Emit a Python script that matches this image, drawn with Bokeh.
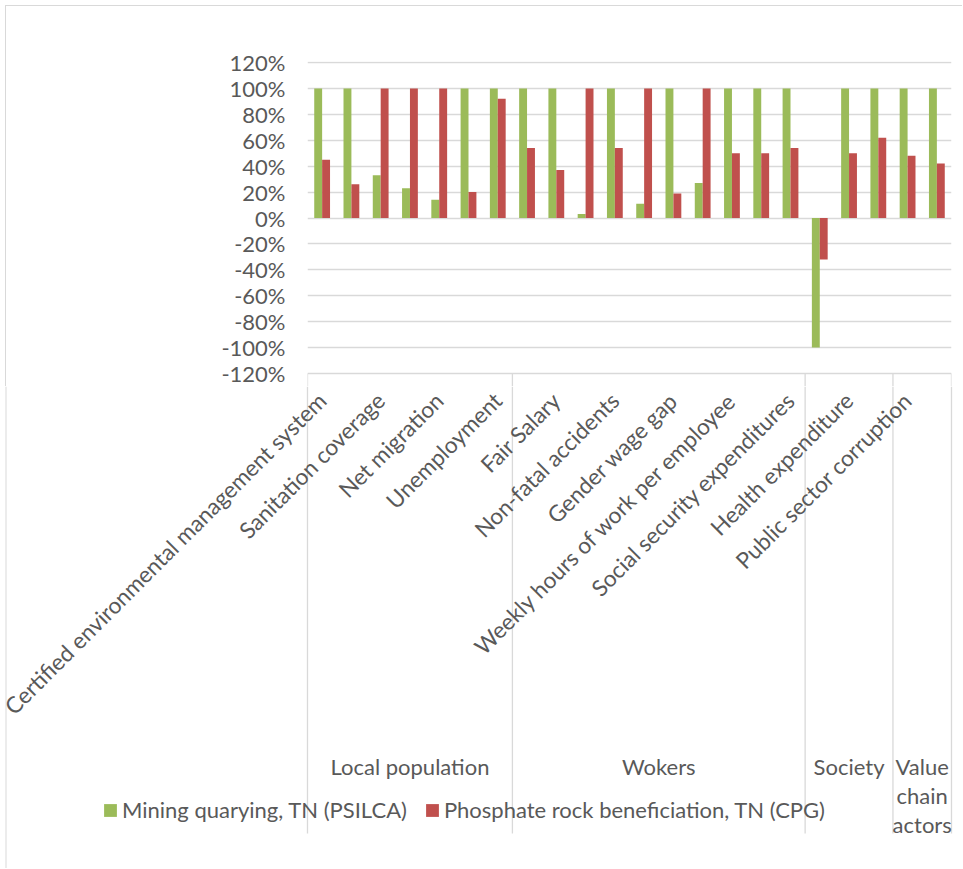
import numpy as np
from bokeh.plotting import figure
from bokeh.layouts import column
from bokeh.models import (ColumnDataSource, Range1d, FixedTicker, NumeralTickFormatter,
                          Legend, LegendItem)
from bokeh.transform import dodge
from bokeh.core.properties import value
from bokeh.embed import file_html
from bokeh.resources import INLINE

# ---------------- data ----------------
# Excel shows only every other category label; hidden ones are left blank
category_labels = [
    "Certified environmental management system", "",
    "Sanitation coverage", "",
    "Net migration", "",
    "Unemployment", "",
    "Fair Salary", "",
    "Non-fatal accidents", "",
    "Gender wage gap", "",
    "Weekly hours of work per employee", "",
    "Social security expenditures", "",
    "Health expenditure", "",
    "Public sector corruption", "",
]
groups = ["Local population", "Wokers", "Society", "Value chain actors"]
group_sizes = [7, 10, 3, 2]
series_names = ["Mining quarying, TN (PSILCA)", "Phosphate rock beneficiation, TN (CPG)"]
mining = [1.00, 1.00, 0.33, 0.23, 0.14, 1.00, 1.00, 1.00, 1.00, 0.03, 1.00,
          0.11, 1.00, 0.27, 1.00, 1.00, 1.00, -1.00, 1.00, 1.00, 1.00, 1.00]
phosphate = [0.45, 0.26, 1.00, 1.00, 1.00, 0.20, 0.92, 0.54, 0.37, 1.00, 0.54,
             1.00, 0.19, 1.00, 0.50, 0.50, 0.54, -0.32, 0.50, 0.62, 0.48, 0.42]
y_ticks = [-1.2, -1.0, -0.8, -0.6, -0.4, -0.2, 0.0, 0.2, 0.4, 0.6, 0.8, 1.0, 1.2]

GREEN = "#9BBB59"
RED = "#C0504D"
GRID = "#d9d9d9"
TEXT = "#595959"
FONT = "Lato"
FS = "22px"
FS_CAT = "22.6px"

# ---------------- layout (page pixels) ----------------
OFF = 6                       # chart border: 5px margin + 1px line
PAGE_W, PAGE_H = 963, 869
PLOT_L, PLOT_R = 307, 951     # category area
Y120, YM120 = 62, 373         # pixel rows of +120% and -120%
SPLIT = 387                   # row where the upper figure ends
BOX_BOTTOM = 834
BORDER_X = 5.5
PX_PER_UNIT = (YM120 - Y120) / 2.4
n = len(category_labels)
CAT_W = (PLOT_R - PLOT_L) / n
bounds = [0] + [int(b) for b in np.cumsum(group_sizes)]

# ---------------- upper figure: bars ----------------
y_lo = -1.2 - (SPLIT - YM120) / PX_PER_UNIT
p = figure(width=PAGE_W - OFF, height=SPLIT - OFF,
           x_range=Range1d(0, n),
           y_range=Range1d(y_lo, 1.2 + 1 / PX_PER_UNIT),
           output_backend="svg", toolbar_location=None, x_axis_type=None,
           min_border_left=PLOT_L - OFF, min_border_right=PAGE_W - PLOT_R,
           min_border_top=Y120 - 1 - OFF, min_border_bottom=0)
p.frame_align = False
p.outline_line_color = None
p.border_fill_color = "white"
p.styles = {"margin-left": "5px", "margin-top": "5px",
            "border-left": "1px solid #d9d9d9", "border-top": "1px solid #d9d9d9"}

p.yaxis.ticker = FixedTicker(ticks=y_ticks)
p.yaxis.formatter = NumeralTickFormatter(format="0%")
p.yaxis.axis_line_color = None
p.yaxis.major_tick_line_color = None
p.yaxis.minor_tick_line_color = None
p.yaxis.major_tick_out = 0
p.yaxis.major_tick_in = 0
p.yaxis.major_label_standoff = 22
p.yaxis.major_label_text_font = FONT
p.yaxis.major_label_text_font_size = FS
p.yaxis.major_label_text_color = TEXT

p.xgrid.visible = False
p.ygrid.ticker = FixedTicker(ticks=y_ticks)
p.ygrid.grid_line_color = GRID
p.ygrid.grid_line_width = 1.3

src = ColumnDataSource(dict(x=[i + 0.5 for i in range(n)], mining=mining, phosphate=phosphate))
p.vbar(x=dodge("x", -0.135, range=p.x_range), top="mining", bottom=0, width=0.27,
       fill_color=GREEN, line_color=None, source=src)
p.vbar(x=dodge("x", 0.135, range=p.x_range), top="phosphate", bottom=0, width=0.27,
       fill_color=RED, line_color=None, source=src)
# start of the group box dividers, below the -120% line
p.segment(x0=bounds, y0=[-1.2] * len(bounds), x1=bounds, y1=[y_lo] * len(bounds),
          line_color=GRID, line_width=1.3)

# ---------------- lower figure: category labels, groups, legend ----------------
# x uses the same category units as the upper figure; y is -(page row)
q = figure(width=PAGE_W, height=PAGE_H - SPLIT,
           x_range=Range1d(-PLOT_L / CAT_W, (PAGE_W - PLOT_L) / CAT_W),
           y_range=Range1d(-PAGE_H, -SPLIT),
           output_backend="svg", toolbar_location=None,
           x_axis_type=None, y_axis_type=None,
           min_border_left=0, min_border_right=0, min_border_top=0, min_border_bottom=0)
q.frame_align = False
q.outline_line_color = None
q.xgrid.visible = False
q.ygrid.visible = False

# chart border continues down the left side
bx = (BORDER_X - PLOT_L) / CAT_W
q.segment(x0=[bx], y0=[-SPLIT], x1=[bx], y1=[-PAGE_H], line_color=GRID, line_width=1)

# group box dividers
q.segment(x0=bounds, y0=[-SPLIT] * len(bounds), x1=bounds, y1=[-BOX_BOTTOM] * len(bounds),
          line_color=GRID, line_width=1.3)

# rotated category labels
cx = [i + 0.5 for i, t in enumerate(category_labels) if t]
ct = [t for t in category_labels if t]
q.text(x=cx, y=[-397] * len(cx), text=ct, angle=np.pi / 4,
       text_align="right", text_baseline="middle",
       text_font=value(FONT), text_font_size=value(FS_CAT), text_color=TEXT)

# group labels (narrow groups wrap one word per line)
gx, gy, gt, start = [], [], [], 0
for name, size in zip(groups, group_sizes):
    lines = [name] if size >= 3 else name.split()
    for j, line in enumerate(lines):
        gx.append(start + size / 2)
        gy.append(-(767 + 29 * j))
        gt.append(line)
    start += size
q.text(x=gx, y=gy, text=gt, text_align="center", text_baseline="alphabetic",
       text_font=value(FONT), text_font_size=value(FS), text_color=TEXT)

# legend swatches: hidden copies of the two series in this figure
lg1 = q.vbar(x="x", top="mining", bottom=0, width=0.27, fill_color=GREEN,
             line_color=None, source=src, visible=False)
lg2 = q.vbar(x="x", top="phosphate", bottom=0, width=0.27, fill_color=RED,
             line_color=None, source=src, visible=False)
legend = Legend(items=[LegendItem(label=series_names[0], renderers=[lg1]),
                       LegendItem(label=series_names[1], renderers=[lg2])],
                orientation="horizontal",
                location=(102, PAGE_H - 824),
                padding=0, margin=0, spacing=17, glyph_width=16, glyph_height=16,
                label_standoff=4, label_text_font=FONT, label_text_font_size=FS,
                label_text_color=TEXT, border_line_color=None, background_fill_alpha=0,
                inactive_fill_alpha=0)
q.add_layout(legend)

layout = column(p, q, spacing=0)

open("out.html", "w").write(file_html(layout, INLINE))
